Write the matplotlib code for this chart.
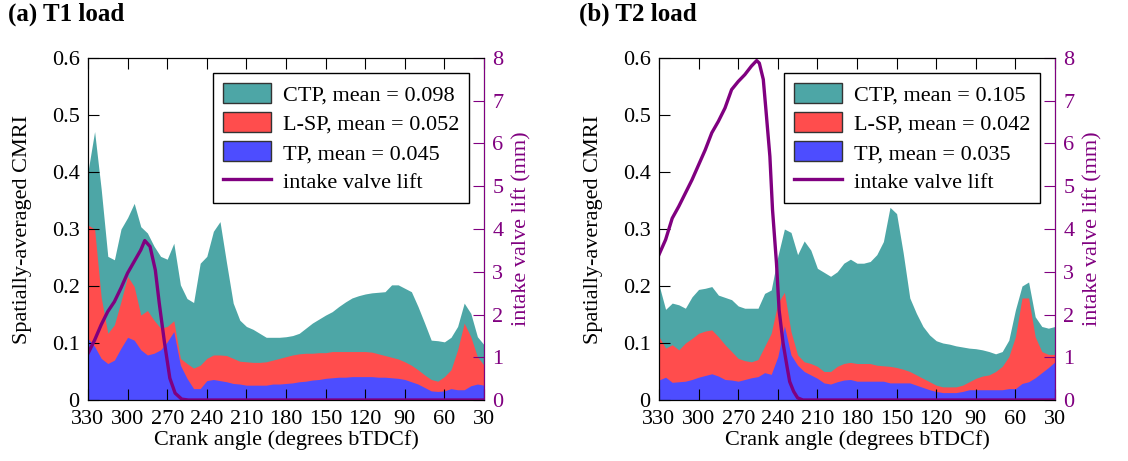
import numpy as np
import matplotlib
matplotlib.use("Agg")
import matplotlib.pyplot as plt
from matplotlib.patches import Patch
from matplotlib.lines import Line2D

plt.rcParams['font.family'] = ['Liberation Serif', 'DejaVu Serif']
plt.rcParams['font.size'] = 16

# crank angle grid (degrees bTDCf), 330 down to 30
angle = np.arange(330, 29, -5)

# ---- (a) T1 load ----
ctp_a = [0.401, 0.471, 0.37, 0.252, 0.246, 0.300, 0.320, 0.345, 0.304, 0.293,
         0.270, 0.252, 0.247, 0.275, 0.202, 0.178, 0.171, 0.240, 0.252, 0.296,
         0.313, 0.240, 0.170, 0.140, 0.129, 0.124, 0.117, 0.110, 0.110, 0.110,
         0.111, 0.113, 0.117, 0.126, 0.135, 0.142, 0.149, 0.155, 0.164, 0.172,
         0.179, 0.183, 0.186, 0.188, 0.189, 0.190, 0.202, 0.202, 0.196, 0.190,
         0.164, 0.135, 0.105, 0.104, 0.102, 0.110, 0.129, 0.170, 0.152, 0.111,
         0.097]
lsp_a = [0.307, 0.300, 0.180, 0.117, 0.132, 0.173, 0.217, 0.199, 0.149, 0.157,
         0.140, 0.126, 0.129, 0.139, 0.073, 0.064, 0.056, 0.061, 0.073, 0.079,
         0.079, 0.078, 0.073, 0.068, 0.067, 0.066, 0.066, 0.067, 0.070, 0.073,
         0.076, 0.079, 0.081, 0.082, 0.082, 0.083, 0.083, 0.085, 0.085, 0.085,
         0.085, 0.085, 0.085, 0.084, 0.081, 0.078, 0.075, 0.072, 0.067, 0.061,
         0.053, 0.044, 0.036, 0.033, 0.041, 0.053, 0.088, 0.135, 0.111, 0.076,
         0.061]
tp_a = [0.108, 0.094, 0.073, 0.064, 0.070, 0.091, 0.110, 0.105, 0.088, 0.079,
        0.082, 0.088, 0.102, 0.120, 0.061, 0.038, 0.020, 0.020, 0.034, 0.036,
        0.034, 0.032, 0.029, 0.028, 0.026, 0.026, 0.026, 0.026, 0.028, 0.028,
        0.029, 0.030, 0.032, 0.033, 0.035, 0.036, 0.038, 0.039, 0.040, 0.040,
        0.041, 0.041, 0.041, 0.041, 0.040, 0.040, 0.039, 0.038, 0.036, 0.032,
        0.028, 0.022, 0.016, 0.015, 0.016, 0.020, 0.018, 0.018, 0.025, 0.028,
        0.026]
valve_ang_a = [330, 325, 320, 315, 310, 305, 300, 295, 290, 287, 283, 279, 276,
               272, 268, 264, 259, 254, 30]
valve_a = [1.09, 1.40, 1.76, 2.07, 2.30, 2.62, 2.97, 3.24, 3.51, 3.73, 3.59, 3.04,
           2.26, 1.33, 0.51, 0.16, 0.02, 0.0, 0.0]

# ---- (b) T2 load ----
ctp_b = [0.202, 0.159, 0.170, 0.167, 0.161, 0.181, 0.194, 0.196, 0.199, 0.184,
         0.180, 0.176, 0.165, 0.161, 0.161, 0.161, 0.187, 0.193, 0.252, 0.300,
         0.294, 0.255, 0.279, 0.263, 0.231, 0.224, 0.217, 0.225, 0.240, 0.247,
         0.240, 0.240, 0.243, 0.255, 0.278, 0.338, 0.327, 0.258, 0.179, 0.152,
         0.129, 0.114, 0.104, 0.100, 0.098, 0.095, 0.093, 0.091, 0.090, 0.088,
         0.085, 0.081, 0.085, 0.105, 0.158, 0.200, 0.207, 0.146, 0.129, 0.126,
         0.129]
lsp_b = [0.111, 0.091, 0.097, 0.088, 0.100, 0.108, 0.117, 0.121, 0.123, 0.111,
         0.097, 0.085, 0.073, 0.069, 0.067, 0.071, 0.094, 0.117, 0.170, 0.189,
         0.120, 0.079, 0.067, 0.064, 0.059, 0.050, 0.050, 0.059, 0.064, 0.066,
         0.064, 0.064, 0.064, 0.061, 0.060, 0.059, 0.057, 0.054, 0.050, 0.044,
         0.038, 0.032, 0.026, 0.023, 0.023, 0.023, 0.026, 0.032, 0.038, 0.042,
         0.044, 0.050, 0.059, 0.076, 0.111, 0.179, 0.179, 0.111, 0.085, 0.080,
         0.080]
tp_b = [0.035, 0.040, 0.031, 0.032, 0.033, 0.036, 0.040, 0.043, 0.046, 0.042,
        0.036, 0.035, 0.033, 0.036, 0.039, 0.041, 0.048, 0.045, 0.076, 0.130,
        0.079, 0.061, 0.050, 0.044, 0.038, 0.030, 0.028, 0.032, 0.035, 0.036,
        0.033, 0.033, 0.033, 0.033, 0.033, 0.030, 0.030, 0.030, 0.030, 0.026,
        0.022, 0.018, 0.015, 0.013, 0.013, 0.013, 0.015, 0.018, 0.018, 0.018,
        0.018, 0.018, 0.018, 0.020, 0.020, 0.029, 0.032, 0.039, 0.048, 0.057,
        0.067]
valve_ang_b = [330, 325, 320, 315, 310, 305, 300, 295, 290, 285, 280, 275, 270,
               265, 260, 256, 254, 251, 249, 246, 244, 241, 239, 236, 233, 231,
               228, 225, 221, 30]
valve_b = [3.40, 3.75, 4.25, 4.53, 4.84, 5.15, 5.50, 5.85, 6.25, 6.52, 6.83, 7.26,
           7.45, 7.61, 7.81, 7.94, 7.88, 7.50, 6.79, 5.70, 4.45, 3.20, 2.10, 1.33,
           0.78, 0.43, 0.20, 0.05, 0.0, 0.0]

means_a = [0.098, 0.052, 0.045]
means_b = [0.105, 0.042, 0.035]
titles = ['(a) T1 load', '(b) T2 load']

c_ctp = '#4da6a6'
c_lsp = '#ff4d4d'
c_tp = '#4d4dff'
c_valve = '#800080'

fig = plt.figure(figsize=(11.28, 4.61), dpi=100)
lefts = [88 / 1128, 659 / 1128]
w = 396 / 1128
bottom = 1 - 400 / 461
h = 342 / 461

panels = [(ctp_a, lsp_a, tp_a, valve_ang_a, valve_a, means_a),
          (ctp_b, lsp_b, tp_b, valve_ang_b, valve_b, means_b)]

for i, (ctp, lsp, tp, vang, vlift, means) in enumerate(panels):
    ax = fig.add_axes([lefts[i], bottom, w, h])
    ax.fill_between(angle, 0, ctp, color=c_ctp, lw=0)
    ax.fill_between(angle, 0, lsp, color=c_lsp, lw=0)
    ax.fill_between(angle, 0, tp, color=c_tp, lw=0)
    ax.set_xlim(330, 30)
    ax.set_ylim(0, 0.6)
    ax.set_xticks(np.arange(330, 29, -30))
    ax.set_yticks(np.arange(0, 0.61, 0.1))
    ax.set_yticklabels(['0', '0.1', '0.2', '0.3', '0.4', '0.5', '0.6'])
    ax.tick_params(direction='in', length=8, top=True, right=False, labelsize=16)
    ax.tick_params(axis='x', pad=7)
    ax.tick_params(axis='y', pad=6)
    ax.set_xlabel('Crank angle (degrees bTDCf)', fontsize=16, labelpad=1)
    ax.set_ylabel('Spatially-averaged CMRI', fontsize=16, labelpad=14)

    ax2 = ax.twinx()
    ax2.plot(vang, vlift, color=c_valve, lw=2.4)
    ax2.set_ylim(0, 8)
    ax2.set_yticks(range(0, 9))
    ax2.tick_params(axis='y', direction='in', length=8, colors=c_valve, labelsize=16, pad=6)
    ax2.spines['right'].set_color(c_valve)
    ax2.set_ylabel('intake valve lift (mm)', color=c_valve, fontsize=16, labelpad=6)

    handles = [Patch(facecolor=c_ctp, edgecolor='#333333', lw=1),
               Patch(facecolor=c_lsp, edgecolor='#333333', lw=1),
               Patch(facecolor=c_tp, edgecolor='#333333', lw=1),
               Line2D([], [], color=c_valve, lw=2.4)]
    labels = ['CTP, mean = %.3f' % means[0], 'L-SP, mean = %.3f' % means[1],
              'TP, mean = %.3f' % means[2], 'intake valve lift']
    leg = ax2.legend(handles, labels, loc='upper right', bbox_to_anchor=(0.962, 0.956),
                     borderaxespad=0, fancybox=False, framealpha=1, edgecolor='black',
                     fontsize=16, handlelength=2.2, handleheight=1.0, labelspacing=0.3,
                     borderpad=0.45, handletextpad=0.5)
    leg.get_frame().set_linewidth(1)

    fig.text(lefts[i] - 80 / 1128, 1 - 14 / 461, titles[i], fontsize=18,
             fontweight='bold', va='center', ha='left')

fig.savefig('out.png', dpi=100)
